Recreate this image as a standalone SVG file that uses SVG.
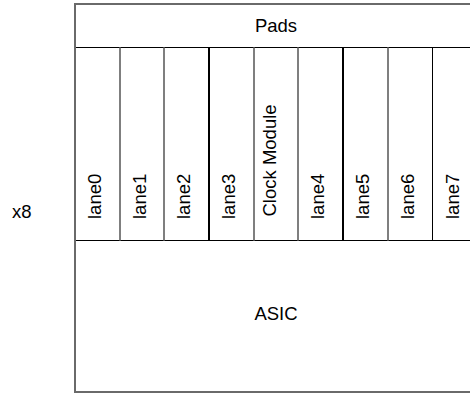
<svg xmlns="http://www.w3.org/2000/svg" width="470" height="393" viewBox="0 0 470 393">
<style>
.bg{fill:#fff;stroke:none}
text{font-family:"Liberation Sans",Arial,sans-serif;font-size:18.5px;fill:#000}
.g{stroke:#7f7f7f;stroke-width:2}
.k2{stroke:#000;stroke-width:2}
.k1{stroke:#000;stroke-width:1}
.o{stroke:#6a6a6a;stroke-width:2}
</style>
<rect width="470" height="393" fill="#fff"/>
<text x="12" y="217.5">x8</text>
<g id="pads"><rect class="bg" x="75" y="4" width="402" height="43.5"/><text x="276" y="32" text-anchor="middle">Pads</text></g>
<g id="lane0"><rect class="bg" x="75" y="47.5" width="45" height="193"/><text transform="translate(101,219) rotate(-90)">lane0</text></g>
<g id="lane1"><rect class="bg" x="120" y="47.5" width="44" height="193"/><text transform="translate(145.5,219) rotate(-90)">lane1</text></g>
<g id="lane2"><rect class="bg" x="164" y="47.5" width="45" height="193"/><text transform="translate(190,219) rotate(-90)">lane2</text></g>
<g id="lane3"><rect class="bg" x="209" y="47.5" width="45" height="193"/><text transform="translate(234.5,219) rotate(-90)">lane3</text></g>
<g id="clock"><rect class="bg" x="254" y="47.5" width="44" height="193"/><text transform="translate(275.5,216.5) rotate(-90)">Clock Module</text></g>
<g id="lane4"><rect class="bg" x="298" y="47.5" width="45" height="193"/><text transform="translate(324,219) rotate(-90)">lane4</text></g>
<g id="lane5"><rect class="bg" x="343" y="47.5" width="45" height="193"/><text transform="translate(368.5,219) rotate(-90)">lane5</text></g>
<g id="lane6"><rect class="bg" x="388" y="47.5" width="44.5" height="193"/><text transform="translate(413.5,219) rotate(-90)">lane6</text></g>
<g id="lane7"><rect class="bg" x="432.5" y="47.5" width="44.5" height="193"/><text transform="translate(458.5,219) rotate(-90)">lane7</text></g>
<g id="asic"><rect class="bg" x="75" y="240.5" width="402" height="151.5"/><text x="276" y="319.5" text-anchor="middle">ASIC</text></g>
<g id="borders" fill="none">
<line class="k1" x1="75" y1="47.5" x2="477" y2="47.5"/>
<line class="k1" x1="75" y1="240.5" x2="477" y2="240.5"/>
<line class="g" x1="120" y1="47.5" x2="120" y2="240.5"/>
<line class="g" x1="164" y1="47.5" x2="164" y2="240.5"/>
<line class="k2" x1="209" y1="47.5" x2="209" y2="240.5"/>
<line class="g" x1="254" y1="47.5" x2="254" y2="240.5"/>
<line class="g" x1="298" y1="47.5" x2="298" y2="240.5"/>
<line class="k2" x1="343" y1="47.5" x2="343" y2="240.5"/>
<line class="g" x1="388" y1="47.5" x2="388" y2="240.5"/>
<line class="k1" x1="432.5" y1="47.5" x2="432.5" y2="240.5"/>
<line class="o" x1="75" y1="3" x2="75" y2="393"/>
<line class="o" x1="74" y1="4" x2="477" y2="4"/>
<line class="o" x1="74" y1="392" x2="477" y2="392"/>
</g>
</svg>
